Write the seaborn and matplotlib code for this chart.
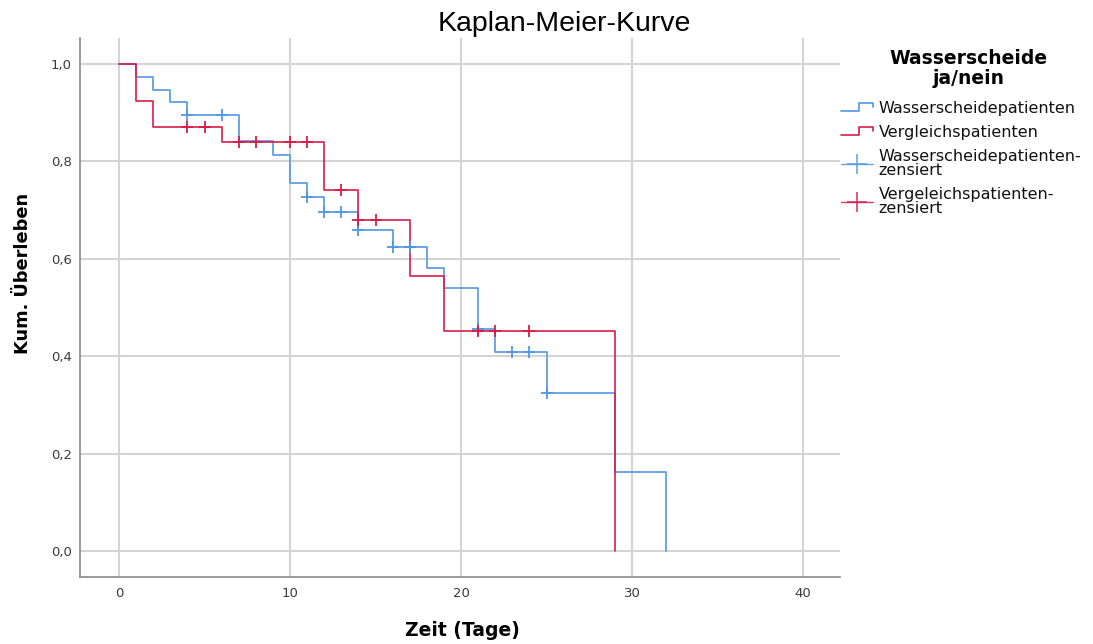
import numpy as np
import pandas as pd
import matplotlib
matplotlib.use("Agg")
import matplotlib.pyplot as plt
from matplotlib.lines import Line2D
from matplotlib.legend_handler import HandlerBase
from matplotlib.ticker import FuncFormatter, MultipleLocator
import seaborn as sns

# Kaplan-Meier estimates (time in days, cumulative survival) per group
blue_times = [0, 1, 2, 3, 4, 7, 9, 10, 11, 12, 14, 16, 18, 19, 21, 22, 25, 29, 32]
blue_surv = [1.0, 0.974, 0.947, 0.921, 0.895, 0.842, 0.813, 0.755, 0.727, 0.695,
             0.660, 0.624, 0.582, 0.541, 0.456, 0.408, 0.325, 0.163, 0.0]
red_times = [0, 1, 2, 6, 12, 14, 17, 19, 29]
red_surv = [1.0, 0.923, 0.871, 0.840, 0.741, 0.680, 0.565, 0.452, 0.0]

# censored observations (days)
blue_censored = [4, 6, 11, 12, 13, 14, 16, 17, 21, 23, 24, 25]
red_censored = [4, 5, 7, 8, 10, 11, 13, 14, 15, 21, 22, 24]

groups = ["Wasserscheidepatienten", "Vergleichspatienten"]
censor_labels = ["Wasserscheidepatienten-\nzensiert", "Vergeleichspatienten-\nzensiert"]
legend_title = "Wasserscheide\nja/nein"
blue = "#5197e4"
red = "#d81c48"
palette = {groups[0]: blue, groups[1]: red}


def surv_at(times, surv, t):
    idx = np.searchsorted(times, t, side="right") - 1
    return surv[idx]


curves = pd.concat([
    pd.DataFrame({"Zeit": blue_times, "S": blue_surv, "Gruppe": groups[0]}),
    pd.DataFrame({"Zeit": red_times, "S": red_surv, "Gruppe": groups[1]}),
], ignore_index=True)

censors = pd.concat([
    pd.DataFrame({"Zeit": blue_censored,
                  "S": [surv_at(blue_times, blue_surv, t) for t in blue_censored],
                  "Gruppe": groups[0]}),
    pd.DataFrame({"Zeit": red_censored,
                  "S": [surv_at(red_times, red_surv, t) for t in red_censored],
                  "Gruppe": groups[1]}),
], ignore_index=True)

sns.set_style("white")
plt.rcParams["font.family"] = ["DejaVu Sans"]
plt.rcParams["text.color"] = "black"
plt.rcParams["axes.labelcolor"] = "black"

fig = plt.figure(figsize=(10.93, 6.44), dpi=100)
ax = fig.add_axes([80 / 1093, 1 - 577 / 644, 760 / 1093, 539 / 644])

sns.lineplot(data=curves, x="Zeit", y="S", hue="Gruppe", palette=palette,
             hue_order=groups, estimator=None, sort=False, drawstyle="steps-post",
             linewidth=1.2, legend=False, ax=ax, zorder=3)
for g in groups:
    sub = censors[censors["Gruppe"] == g]
    sns.scatterplot(data=sub, x="Zeit", y="S", color=palette[g], marker="+",
                    s=70, linewidth=1.3, legend=False, ax=ax, zorder=4)

ax.set_xlim(-2.28, 42.16)
ax.set_ylim(-0.053, 1.053)
ax.xaxis.set_major_locator(MultipleLocator(10))
ax.yaxis.set_major_locator(MultipleLocator(0.2))
ax.yaxis.set_major_formatter(FuncFormatter(lambda v, p: f"{v:.1f}".replace(".", ",")))
ax.xaxis.set_major_formatter(FuncFormatter(lambda v, p: f"{v:.0f}"))
ax.grid(True, color="#d4d4d4", linewidth=1.5)
ax.set_axisbelow(True)
for side in ["top", "right"]:
    ax.spines[side].set_visible(False)
for side in ["left", "bottom"]:
    ax.spines[side].set_color("#8a8a8a")
    ax.spines[side].set_linewidth(1.2)
ax.tick_params(axis="both", length=0, labelsize=9.5, labelcolor="#3a3a3a")
ax.tick_params(axis="x", pad=7)
ax.tick_params(axis="y", pad=6)

ax.set_xlabel("Zeit (Tage)", fontsize=13.5, fontweight="bold")
ax.set_ylabel("Kum. Überleben", fontsize=12.8, fontweight="bold")
ax.xaxis.set_label_coords(0.503, -0.081)
ax.yaxis.set_label_coords(-0.063, 0.563)

fig.text(564 / 1093, 1 - 24 / 644, "Kaplan-Meier-Kurve", ha="center", va="center",
         fontsize=20.5, family="Liberation Sans", color="black")


class StepHandler(HandlerBase):
    def create_artists(self, legend, orig_handle, xdescent, ydescent, width, height,
                       fontsize, trans):
        x0 = -xdescent
        y0 = -ydescent
        xs = [x0, x0 + 0.55 * width, x0 + 0.55 * width, x0 + width, x0 + width]
        ys = [y0 + 0.15 * height, y0 + 0.15 * height, y0 + 0.85 * height,
              y0 + 0.85 * height, y0 + 0.5 * height]
        line = Line2D(xs, ys, color=orig_handle.get_color(), linewidth=1.2)
        line.set_transform(trans)
        return [line]


# legend heading, centred over the legend entries
fig.text(969 / 1093, 1 - 49 / 644, legend_title, ha="center", va="top",
         multialignment="center", fontsize=13.5, fontweight="bold",
         linespacing=1.05, color="black")

step_handles = [Line2D([], [], color=palette[g]) for g in groups]
cens_handles = [Line2D([], [], color=palette[g], marker="+", markersize=15,
                       markeredgewidth=1.2, linewidth=1.0, alpha=0.85) for g in groups]
handler_map = {h: StepHandler() for h in step_handles}
leg = fig.legend(step_handles + cens_handles, groups + censor_labels,
                 handler_map=handler_map, loc="upper left",
                 bbox_to_anchor=(841 / 1093, 1 - 101 / 644), frameon=False,
                 fontsize=11.5, handlelength=2.0, handletextpad=0.35,
                 labelspacing=0.55, borderaxespad=0, borderpad=0)
for t in leg.get_texts():
    t.set_linespacing(0.95)
    t.set_color("#111111")

fig.savefig("out.png", dpi=100)
